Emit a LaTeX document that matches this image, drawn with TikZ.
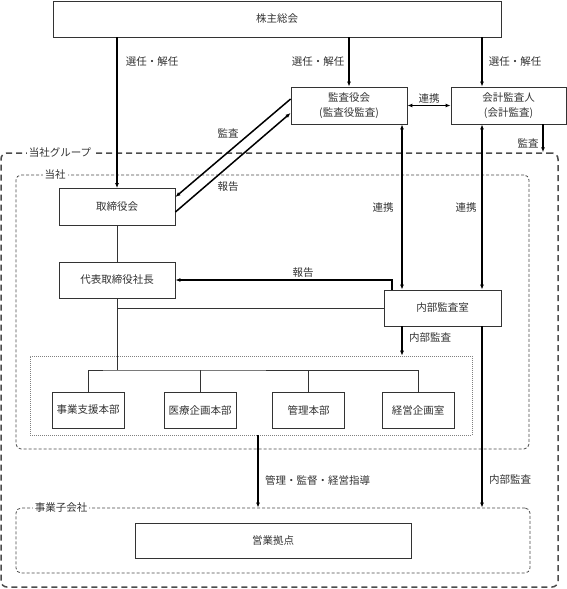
\documentclass[tikz,border=0pt]{standalone}
\usepackage{fontspec}
\setmainfont{Noto Sans CJK JP}
\usetikzlibrary{arrows.meta,positioning}

\begin{document}
\begin{tikzpicture}[x=1pt,y=-1pt,
  box/.style={draw=black!80,line width=0.8pt,fill=white,minimum height=36pt,text=black!80},
  frame/.style={draw=black!70,line width=0.8pt,dash pattern=on 3pt off 2pt,rounded corners=5pt},
  link/.style={line width=1.5pt,-{Latex[length=5pt,width=4pt]}},
  both/.style={line width=1.5pt,{Latex[length=5pt,width=4pt]}-{Latex[length=5pt,width=4pt]}},
  plain/.style={draw=black!80,line width=0.8pt},
  lbl/.style={text=black!80},
  tag/.style={fill=white,text=black!80,inner sep=2pt}]
\tikzstyle{every node}+=[inner sep=0pt,font=\fontsize{10.5}{15}\selectfont]
\useasboundingbox (0,0) rectangle (567,589);
\fill [white] (0,0) rectangle (567,589);

% groups
\node [draw=black!70,line width=1.5pt,dash pattern=on 6pt off 4pt,rounded corners=6pt,minimum width=557pt,minimum height=434pt] (group) at (279.5,370) {};
\node [frame,minimum width=513pt,minimum height=274pt] (tousha) at (272.5,312) {};
\node [draw=black!50,line width=0.6pt,dash pattern=on 1pt off 1pt,minimum width=442pt,minimum height=79pt] (depts) at (251,395.5) {};
\node [frame,minimum width=514pt,minimum height=65pt] (kogaisha) at (273,540.5) {};
\node [tag] (lgroup) at (60,153) {当社グループ};
\node [tag] (ltousha) at (55,175) {当社};
\node [tag] (lkogaisha) at (61,508) {事業子会社};

% boxes
\node [box,minimum width=448pt] (soukai) at (277,19) {株主総会};
\node [box,minimum width=116pt,minimum height=37pt,align=center] (kansa) at (349,105.5) {監査役会\\(監査役監査)};
\node [box,minimum width=115pt,minimum height=37pt,align=center] (kaikei) at (508.5,105.5) {会計監査人\\(会計監査)};
\node [box,minimum width=116pt,minimum height=37pt] (torishimari) at (117,207) {取締役会};
\node [box,minimum width=116pt] (daihyo) at (117,280) {代表取締役社長};
\node [box,minimum width=117pt] (naibu) at (442.5,308) {内部監査室};
\node [box,minimum width=72pt] (jigyo) at (88,410) {事業支援本部};
\node [box,minimum width=72pt] (iryo) at (200,410) {医療企画本部};
\node [box,minimum width=72pt] (kanri) at (308.5,410) {管理本部};
\node [box,minimum width=72pt] (keiei) at (418,410) {経営企画室};
\node [box,minimum width=276pt,minimum height=35pt] (eigyo) at (273,540.5) {営業拠点};

% columns
\coordinate (hcol) at (392,0);
\coordinate (mcol) at (402,0);
\coordinate (rcol) at (482,0);
\coordinate (kcol) at (543,0);
\coordinate (gcol) at (258,0);
\coordinate (bus) at (117,370);

% connectors
\draw [link] (soukai.south -| torishimari.north) -- (torishimari.north);
\draw [link] (soukai.south -| kansa.north) -- (kansa.north);
\draw [link] (soukai.south -| rcol) -- (kaikei.north -| rcol);
\draw [both] (kansa.east) -- (kaikei.west);
\draw [link] (kaikei.south -| kcol) -- (group.north -| kcol);
\draw [link] ([yshift=6.5pt]kansa.west) -- ([yshift=10pt]torishimari.east);
\draw [link] ([yshift=-5pt]torishimari.east) -- ([yshift=-7.5pt]kansa.west);
\draw [both] (kansa.south -| mcol) -- (naibu.north -| mcol);
\draw [both] (kaikei.south -| rcol) -- (naibu.north -| rcol);
\draw [link] (naibu.north -| hcol) |- (daihyo.east);
\draw [plain] (torishimari) -- (daihyo);
\draw [plain] (naibu.west) -- (naibu.west -| daihyo);
\draw [plain] (daihyo.south) -- (bus);
\draw [plain] (jigyo.north) |- (bus) -| (keiei.north);
\foreach \d in {iryo,kanri}
  \draw [plain] (\d.north) -- (\d.north |- bus);
\draw [link] (naibu.south -| mcol) -- (depts.north -| mcol);
\draw [link] (depts.south -| gcol) -- (kogaisha.north -| gcol);
\draw [link] (naibu.south -| rcol) -- (kogaisha.north -| rcol);

% labels
\node [lbl] (lsen1) at (152,62) {選任・解任};
\node [lbl] (lsen2) at (318,62) {選任・解任};
\node [lbl] (lsen3) at (515,62) {選任・解任};
\node [lbl] (lren1) at (429,99) {連携};
\node [lbl] (lkansa1) at (528,143) {監査};
\node [lbl] (lkansa2) at (228,133) {監査};
\node [lbl] (lhoukoku1) at (228,187) {報告};
\node [lbl] (lren2) at (383,208) {連携};
\node [lbl] (lren3) at (466,208) {連携};
\node [lbl] (lhoukoku2) at (303,273) {報告};
\node [lbl] (lnaibu1) at (430,338) {内部監査};
\node [lbl,anchor=west] (lkanri) at (265,480) {管理・監督・経営指導};
\node [lbl] (lnaibu2) at (510,480) {内部監査};
\end{tikzpicture}
\end{document}
